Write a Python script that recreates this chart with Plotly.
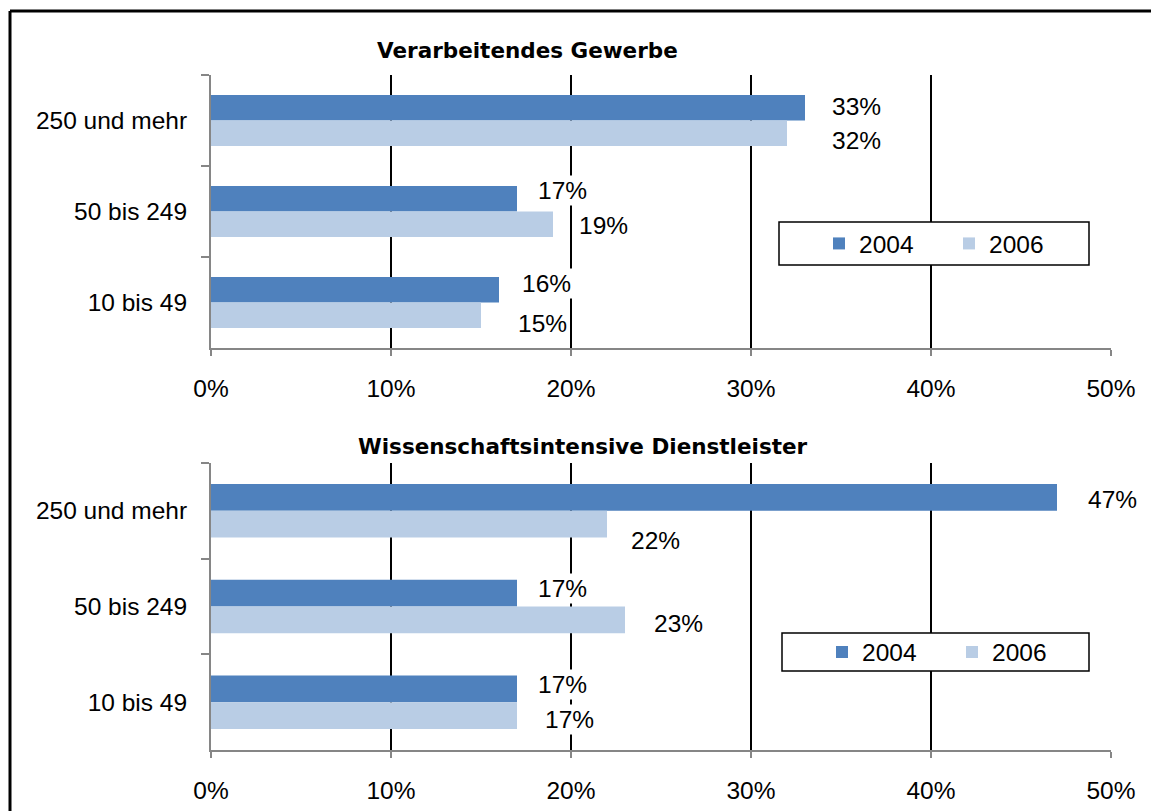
import plotly.graph_objects as go

W, H = 1151, 811

categories = ["250 und mehr", "50 bis 249", "10 bis 49"]
series_names = ["2004", "2006"]
panel_titles = ["Verarbeitendes Gewerbe", "Wissenschaftsintensive Dienstleister"]

vg_2004 = [0.33, 0.17, 0.16]
vg_2006 = [0.32, 0.19, 0.15]
wd_2004 = [0.47, 0.17, 0.17]
wd_2006 = [0.22, 0.23, 0.17]

x_tickvals = [0, 0.1, 0.2, 0.3, 0.4, 0.5]
x_ticktext = ["0%", "10%", "20%", "30%", "40%", "50%"]

colors = ["#4F81BD", "#B9CDE5"]

# label placement offsets in px (per panel, per series, per category)
label_dx = [[[51, 45, 47], [69, 50, 61]], [[55, 45, 45], [48, 53, 52]]]
label_dy = [[[14, 21, 19], [-20, -14, -21]], [[11, 18, 18], [-30, -17, -17]]]

FONT = "Liberation Sans, Arial, sans-serif"
FS = 24.5
GRAY = "#868686"


def px(x):
    return x / W


def py(y):
    return 1 - y / H


panels = [
    dict(xa="x", ya="y", xname="xaxis", yname="yaxis", x0=211, x1=1111, y0=75, y1=348,
         data=[vg_2004, vg_2006], legend="legend", title_xy=(527, 50),
         box=(779, 222, 1089, 265)),
    dict(xa="x2", ya="y2", xname="xaxis2", yname="yaxis2", x0=211, x1=1111, y0=463, y1=750,
         data=[wd_2004, wd_2006], legend="legend2", title_xy=(583, 446),
         box=(782, 633, 1089, 671)),
]

fig = go.Figure()
annotations = []
shapes = []
layout = dict(
    width=W, height=H,
    margin=dict(l=0, r=0, t=0, b=0, autoexpand=False),
    paper_bgcolor="white", plot_bgcolor="white",
    barmode="group", bargap=0.44, bargroupgap=0,
    font=dict(family=FONT, size=FS, color="black"),
)

for pi, p in enumerate(panels):
    for si, name in enumerate(series_names):
        fig.add_trace(go.Bar(
            x=p["data"][si], y=categories, orientation="h", name=name,
            marker=dict(color=colors[si], line=dict(width=0)),
            xaxis=p["xa"], yaxis=p["ya"], legend=p["legend"],
            hoverinfo="skip",
        ))
        for ci, cat in enumerate(categories):
            val = p["data"][si][ci]
            annotations.append(dict(
                x=val, y=cat, xref=p["xa"], yref=p["ya"],
                text=f"{round(val * 100)}%", showarrow=False,
                xanchor="center", yanchor="middle",
                xshift=label_dx[pi][si][ci], yshift=label_dy[pi][si][ci],
                bgcolor="white", borderpad=1,
                font=dict(family=FONT, size=FS, color="black"),
            ))
    layout[p["xname"]] = dict(
        domain=[px(p["x0"]), px(p["x1"])], anchor=p["ya"], automargin=False,
        range=[0, 0.5], tickvals=x_tickvals, ticktext=x_ticktext,
        showgrid=True, gridcolor="black", gridwidth=1.5,
        zeroline=False, showline=True, linecolor=GRAY, linewidth=2,
        ticks="outside", ticklen=6, tickwidth=1.5, tickcolor=GRAY,
        ticklabelstandoff=12,
        tickfont=dict(family=FONT, size=FS, color="black"),
    )
    layout[p["yname"]] = dict(
        domain=[py(p["y1"]), py(p["y0"])], anchor=p["xa"], automargin=False,
        type="category", categoryorder="array", categoryarray=categories,
        autorange="reversed", showgrid=False, zeroline=False,
        showline=True, linecolor=GRAY, linewidth=2,
        ticks="outside", tickson="boundaries", ticklen=8, tickwidth=1.5, tickcolor=GRAY,
        ticklabelstandoff=17,
        tickfont=dict(family=FONT, size=FS, color="black"),
    )
    tx, ty = p["title_xy"]
    annotations.append(dict(
        x=px(tx), y=py(ty), xref="paper", yref="paper", showarrow=False,
        xanchor="center", yanchor="middle",
        text=f"<b>{panel_titles[pi]}</b>",
        font=dict(family="DejaVu Sans, sans-serif", size=21.5, color="black"),
    ))
    bx0, by0, bx1, by1 = p["box"]
    shapes.append(dict(
        type="rect", xref="paper", yref="paper", layer="above",
        x0=px(bx0), x1=px(bx1), y0=py(by1), y1=py(by0),
        line=dict(color="black", width=1.5), fillcolor="white",
    ))
    layout[p["legend"]] = dict(
        orientation="h", x=px(bx0 + 40), y=py((by0 + by1) / 2),
        xanchor="left", yanchor="middle",
        bgcolor="rgba(0,0,0,0)", borderwidth=0,
        entrywidth=85, entrywidthmode="pixels",
        font=dict(family=FONT, size=FS, color="black"),
    )

# white mask along the right edge (below the top border line)
shapes.append(dict(
    type="rect", xref="paper", yref="paper", layer="above",
    x0=px(1138), x1=1.0, y0=0.0, y1=py(14),
    line=dict(width=0), fillcolor="white",
))
# outer chart border (top and left edges visible in the frame)
shapes.append(dict(
    type="line", xref="paper", yref="paper", layer="above",
    x0=px(10), x1=1.0, y0=py(11), y1=py(11),
    line=dict(color="black", width=3),
))
shapes.append(dict(
    type="line", xref="paper", yref="paper", layer="above",
    x0=px(10), x1=px(10), y0=0.0, y1=py(11),
    line=dict(color="black", width=3),
))

layout["annotations"] = annotations
layout["shapes"] = shapes
fig.update_layout(**layout)

fig.write_html(
    "out.html", config={"displayModeBar": False},
    post_script="document.body.style.margin='0';document.body.style.overflow='hidden';"
                "document.documentElement.style.overflow='hidden';",
)
